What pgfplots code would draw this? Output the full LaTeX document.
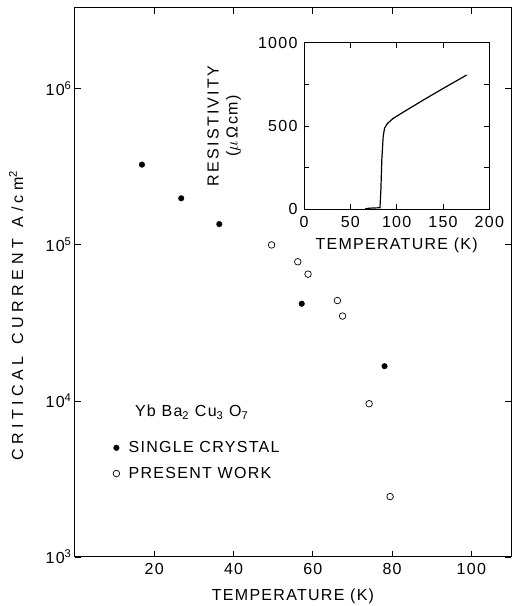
\documentclass[border=0pt]{standalone}
\usepackage{fontspec}
\setmainfont{Liberation Sans}[LetterSpace=8]
\usepackage{pgfplots}
\pgfplotsset{compat=1.18}
\usetikzlibrary{calc}
\begin{document}
\begin{tikzpicture}
\pgfplotsset{every axis/.append style={
    scale only axis, tick align=inside, axis line style={line width=1pt},
    every tick/.style={line width=0.9pt, black}, minor tick length=0pt,
    font=\fontsize{16}{19}\selectfont}}
% main plot: critical current vs temperature
\begin{axis}[
    name=main,
    width=436pt, height=549pt,
    xmin=0, xmax=110,
    ymode=log, ymin=1e3, ymax=3.3e6,
    xtick={20,40,60,80,100}, xticklabels={20,40,60,80,100},
    ytick={1e3,1e4,1e5,1e6},
    yticklabels={10\textsuperscript{3},10\textsuperscript{4},10\textsuperscript{5},10\textsuperscript{6}},
    major tick length=6pt,
    xticklabel style={yshift=-3pt},
    xlabel={TEMPERATURE (K)},
    xlabel style={yshift=-7pt},
    ylabel={\addfontfeatures{LetterSpace=28}CRITICAL\hspace{12pt}CURRENT\hspace{12pt}A/cm\textsuperscript{2}},
    ylabel style={at={(axis description cs:-0.135,0.44)}, anchor=center},
    legend style={at={(axis cs:8.8,5.85e3)}, anchor=north west, draw=none, fill=none,
        row sep=9pt, column sep=7pt, font=\fontsize{16}{19}\selectfont},
    legend cell align=left,
]
% single crystal
\addplot[only marks, mark=*, mark size=2.8pt, black]
    coordinates {(16.9,3.27e5)(26.8,1.99e5)(36.4,1.36e5)(57.2,4.2e4)(78.1,1.67e4)};
\addlegendentry{SINGLE CRYSTAL}

% present work
\addplot[only marks, mark=o, mark size=3.3pt, black, mark options={line width=0.7pt}]
    coordinates {(49.6,1.0e5)(56.2,7.8e4)(58.8,6.5e4)(66.2,4.4e4)(67.5,3.5e4)(74.2,9.6e3)(79.5,2.44e3)};
\addlegendentry{PRESENT WORK}

\node[anchor=base west, inner sep=0pt] at (axis cs:15.1,7.9e3)
    {Yb Ba\textsubscript{2} Cu\textsubscript{3} O\textsubscript{7}};
\end{axis}

% inset: resistivity vs temperature
\begin{axis}[
    at={($(main.north west)+(229pt,-34.7pt)$)}, anchor=north west,
    width=185.3pt, height=166.7pt,
    xmin=0, xmax=200, ymin=0, ymax=1000,
    xtick={0,50,100,150,200}, xticklabels={0,50,100,150,200},
    ytick={0,500,1000}, yticklabels={0,500,1000},
    minor ytick={250,750}, minor tick length=5pt,
    major tick length=5pt,
    xticklabel style={yshift=-3pt},
    yticklabel style={xshift=-3pt},
    xlabel={TEMPERATURE (K)},
    xlabel style={yshift=-4pt},
    ylabel={\addfontfeatures{LetterSpace=14}RESISTIVITY\\($\mu\,$Ωcm)},
    ylabel style={align=center, at={(axis description cs:-0.43,0.5)}, anchor=center},
]
\addplot[black, line width=1.2pt] coordinates {
    (66,3)(70,7)(82,10)(83,120)(84,300)(85.5,440)(87,488)(90,515)(96,545)
    (110,593)(130,660)(150,725)(175.5,806)};
\end{axis}

\pgfresetboundingbox
\path[use as bounding box] ($(main.south west)+(-75pt,-49pt)$) rectangle ($(main.north east)+(1pt,8pt)$);
\end{tikzpicture}
\end{document}
